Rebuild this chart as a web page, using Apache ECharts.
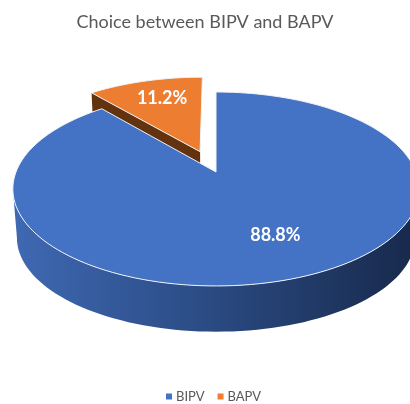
<!DOCTYPE html>
<html>
<head>
<meta charset="utf-8">
<script src="https://cdn.jsdelivr.net/npm/echarts@6/dist/echarts.min.js"></script>
<style>
  html, body { margin: 0; padding: 0; background: #fff; }
  #chart { width: 410px; height: 404px; }
</style>
</head>
<body>
<div id="chart"></div>
<script>
var categories = ['BIPV', 'BAPV'];
var shares = [88.8, 11.2];
var sliceColors = ['#4472c4', '#ed7d31'];
var wallColors = [['#3f69b3', '#2a4a82', '#182a4d'], ['#63320f', '#63320f', '#63320f']];
var explode = [0, 0.24];      // pulled out of the pie, in radii
var labelRadius = [0.65, 0.74];
var labelTurn = [-4, 2];      // degrees off the middle of the slice

var total = shares[0] + shares[1];

// tilted disc, drawn as a circle under perspective so the back looks shorter
var topFace = {x0: 216, y0: 172, a: 200, b: 94};
var bottomFace = {x0: 216, y0: 221.4, a: 196, b: 91};
var persp = 0.175;

function project(face, px, py) {
  var d = 1 + persp * py;
  return [face.x0 + face.a * px / d, face.y0 - face.b * py / d];
}

// deg is clockwise from the top of the pie
function polar(r, deg) {
  var t = deg * Math.PI / 180;
  return [r * Math.sin(t), r * Math.cos(t)];
}

function arcPoints(face, from, to, shift) {
  var pts = [];
  var n = Math.max(2, Math.ceil(Math.abs(to - from) / 2));
  for (var i = 0; i <= n; i++) {
    var p = polar(1, from + (to - from) * i / n);
    pts.push(project(face, p[0] + shift[0], p[1] + shift[1]));
  }
  return pts;
}

function sliceRender(index) {
  return function (params, api) {
    var value = api.value(0);
    var start = 0;
    for (var i = 0; i < index; i++) start += shares[i] / total * 360;
    var end = start + value / total * 360;
    var mid = (start + end) / 2;
    var shift = polar(explode[index], mid);
    var apexTop = project(topFace, shift[0], shift[1]);
    var apexBottom = project(bottomFace, shift[0], shift[1]);

    var wall;
    if (index === 0) {
      // front of the rim only, widest points of the disc are a bit past 90/270
      var widest = Math.asin(persp) * 180 / Math.PI;
      var rimFrom = Math.max(start, 90 + widest), rimTo = Math.min(end, 270 - widest);
      wall = arcPoints(topFace, rimFrom, rimTo, shift)
        .concat(arcPoints(bottomFace, rimTo, rimFrom, shift));
    } else {
      // cut face on the left of the pulled slice
      var a = polar(1, start);
      wall = [
        apexTop,
        project(topFace, a[0] + shift[0], a[1] + shift[1]),
        project(bottomFace, a[0] + shift[0], a[1] + shift[1]),
        apexBottom
      ];
    }

    var lab = polar(labelRadius[index], mid + labelTurn[index]);
    var labelAt = project(topFace, lab[0] + shift[0], lab[1] + shift[1]);

    return {
      type: 'group',
      children: [
        {
          type: 'polygon',
          shape: {points: wall},
          style: {
            fill: new echarts.graphic.LinearGradient(13, 0, 410, 0, [
              {offset: 0, color: wallColors[index][0]},
              {offset: 0.5, color: wallColors[index][1]},
              {offset: 1, color: wallColors[index][2]}
            ], true)
          }
        },
        {
          type: 'polygon',
          shape: {points: [apexTop].concat(arcPoints(topFace, start, end, shift))},
          style: {fill: sliceColors[index], stroke: '#eef2f8', lineWidth: 1}
        },
        {
          type: 'text',
          x: labelAt[0],
          y: labelAt[1] + 1,
          style: {
            text: (value).toFixed(1) + '%',
            fill: '#fff',
            font: 'bold 18px Lato',
            align: 'center',
            verticalAlign: 'middle'
          }
        }
      ]
    };
  };
}

var myChart = echarts.init(document.getElementById('chart'));
myChart.setOption({
  animation: false,
  title: {
    text: 'Choice between BIPV and BAPV',
    left: 'center',
    top: 8,
    textStyle: {fontFamily: 'Lato', fontSize: 18, fontWeight: 'normal', color: '#595959'}
  },
  legend: {
    data: categories,
    left: 161,
    top: 385,
    icon: 'rect',
    itemWidth: 6,
    itemHeight: 6,
    itemGap: 13,
    selectedMode: false,
    textStyle: {fontFamily: 'Lato', fontSize: 13, color: '#595959', padding: [0, 0, 0, -1]}
  },
  series: [
    {
      type: 'custom',
      name: categories[1],
      coordinateSystem: 'none',
      z: 2,
      silent: true,
      itemStyle: {color: sliceColors[1]},
      data: [[shares[1]]],
      renderItem: sliceRender(1)
    },
    {
      type: 'custom',
      name: categories[0],
      coordinateSystem: 'none',
      z: 3,
      silent: true,
      itemStyle: {color: sliceColors[0]},
      data: [[shares[0]]],
      renderItem: sliceRender(0)
    }
  ]
});
</script>
</body>
</html>
